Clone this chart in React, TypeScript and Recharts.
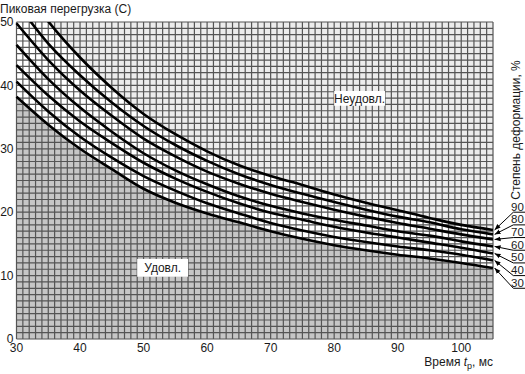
import React from 'react';
import {
  ComposedChart,
  Area,
  Line,
  XAxis,
  YAxis,
  CartesianGrid,
  ReferenceArea,
  ReferenceLine,
  ReferenceDot,
} from 'recharts';

// время t_p, мс
const times = [30, 35, 40, 45, 50, 55, 60, 65, 70, 75, 80, 85, 90, 95, 100, 105];

// пиковая перегрузка для каждой степени деформации
const deform30 = [38.2, 33.8, 30.0, 26.8, 23.7, 21.5, 19.8, 18.4, 17.0, 15.8, 14.8, 14.0, 13.3, 12.7, 12.0, 11.2];
const deform40 = [40.6, 35.9, 31.9, 28.6, 25.7, 23.4, 21.4, 19.8, 18.3, 17.1, 16.1, 15.3, 14.6, 14.0, 13.3, 12.4];
const deform50 = [43.2, 38.4, 34.3, 30.9, 27.8, 25.3, 23.2, 21.4, 19.9, 18.8, 17.7, 16.8, 16.0, 15.2, 14.4, 13.5];
const deform60 = [46.4, 41.0, 36.5, 32.7, 29.3, 26.6, 24.4, 22.5, 21.0, 19.8, 18.8, 17.9, 17.0, 16.3, 15.4, 14.6];
const deform70 = [49.8, 44.0, 39.2, 35.2, 31.6, 28.8, 26.4, 24.5, 22.9, 21.6, 20.4, 19.3, 18.3, 17.4, 16.5, 15.7];
const deform80 = [53.0, 46.6, 41.6, 37.3, 33.6, 30.6, 28.1, 26.0, 24.3, 22.9, 21.6, 20.4, 19.3, 18.4, 17.3, 16.5];
const deform90 = [57.0, 50.1, 44.4, 39.6, 35.5, 32.3, 29.6, 27.4, 25.7, 24.3, 22.8, 21.5, 20.3, 19.1, 18.0, 17.2];

const degrees = [90, 80, 70, 60, 50, 40, 30];
const xTickLabels = [30, 40, 50, 60, 70, 80, 90, 100];
const yTickLabels = [0, 10, 20, 30, 40, 50];

const X_MIN = 30;
const X_MAX = 105;
const Y_MIN = 0;
const Y_MAX = 50;

// сетка через 1 единицу
const gridX = Array.from({ length: X_MAX - X_MIN + 1 }, (_, i) => X_MIN + i);
const gridY = Array.from({ length: Y_MAX - Y_MIN + 1 }, (_, i) => Y_MIN + i);

const series: Record<number, number[]> = {
  30: deform30,
  40: deform40,
  50: deform50,
  60: deform60,
  70: deform70,
  80: deform80,
  90: deform90,
};

const data = times.map((t, i) => {
  const row: Record<string, number> = { t };
  degrees.forEach((d) => {
    row['c' + d] = series[d][i];
  });
  return row;
});

// выноски справа
const LEADER_TOP = 20;
const LEADER_STEP = 2;
const LEADER_X0 = 108.2;
const LEADER_X1 = 110.5;
const LABEL_X = 108.85;
const ARROW_X = 105.25;

const font = '"Liberation Sans", Arial, sans-serif';
const tickStyle = { fontSize: 12, fill: '#1a1a1a', fontFamily: font };

export default function App() {
  return (
    <div style={{ position: 'absolute', left: 0, top: 0, width: 525, height: 374, background: '#fff', fontFamily: font, color: '#1a1a1a' }}>
      <ComposedChart width={525} height={374} data={data} margin={{ top: 22, right: 32, bottom: 5, left: 0 }}>
        <defs>
          <marker id="leaderArrow" viewBox="0 0 10 10" refX="10" refY="5" markerWidth="6" markerHeight="6" orient="auto">
            <path d="M0,1 L10,5 L0,9 z" fill="#000" />
          </marker>
        </defs>
        <XAxis
          dataKey="t"
          type="number"
          domain={[X_MIN, X_MAX]}
          ticks={gridX}
          interval={0}
          tickFormatter={(v: number) => (xTickLabels.includes(v) ? String(v) : '')}
          axisLine={false}
          tickLine={false}
          tickSize={3}
          tickMargin={1}
          height={30}
          tick={tickStyle}
        />
        <YAxis
          type="number"
          domain={[Y_MIN, Y_MAX]}
          allowDataOverflow
          ticks={gridY}
          interval={0}
          tickFormatter={(v: number) => (yTickLabels.includes(v) ? String(v) : '')}
          axisLine={false}
          tickLine={false}
          tickSize={2}
          tickMargin={1}
          width={16.5}
          tick={tickStyle}
        />

        <Area
          type="monotone"
          dataKey={(d: Record<string, number>) => [d.c90, Y_MAX]}
          stroke="none"
          fill="#ececec"
          fillOpacity={1}
          isAnimationActive={false}
          activeDot={false}
        />
        <Area
          type="monotone"
          dataKey={(d: Record<string, number>) => [d.c30, d.c90]}
          stroke="none"
          fill="#ffffff"
          fillOpacity={1}
          isAnimationActive={false}
          activeDot={false}
        />
        <Area
          type="monotone"
          dataKey="c30"
          stroke="none"
          fill="#c6c6c6"
          fillOpacity={1}
          isAnimationActive={false}
          activeDot={false}
        />

        <CartesianGrid stroke="#555555" strokeWidth={1.2} zIndex={150} />

        {degrees.map((d) => (
          <Line
            key={d}
            type="monotone"
            dataKey={'c' + d}
            stroke="#000"
            strokeWidth={2.6}
            dot={false}
            activeDot={false}
            isAnimationActive={false}
          />
        ))}

        <ReferenceArea
          x1={80}
          x2={88}
          y1={36.8}
          y2={39.1}
          fill="#fff"
          fillOpacity={1}
          stroke="none"
          zIndex={450}
          label={{ value: 'Неудовл.', position: 'center', fontSize: 12, fill: '#1a1a1a', fontFamily: font }}
        />
        <ReferenceArea
          x1={49}
          x2={57}
          y1={9.8}
          y2={12.6}
          fill="#fff"
          fillOpacity={1}
          stroke="none"
          zIndex={450}
          label={{ value: 'Удовл.', position: 'center', fontSize: 12, fill: '#1a1a1a', fontFamily: font }}
        />

        {degrees.map((d, i) => {
          const ly = LEADER_TOP - LEADER_STEP * i;
          return (
            <ReferenceLine
              key={'u' + d}
              segment={[{ x: LEADER_X0, y: ly }, { x: LEADER_X1, y: ly }]}
              stroke="#000"
              strokeWidth={1}
              ifOverflow="visible"
            />
          );
        })}
        {degrees.map((d, i) => {
          const ly = LEADER_TOP - LEADER_STEP * i;
          const end = series[d][series[d].length - 1];
          return (
            <ReferenceLine
              key={'a' + d}
              segment={[{ x: LEADER_X0, y: ly }, { x: ARROW_X, y: end }]}
              stroke="#000"
              strokeWidth={1}
              markerEnd="url(#leaderArrow)"
              ifOverflow="visible"
            />
          );
        })}
        {degrees.map((d, i) => (
          <ReferenceDot
            key={'l' + d}
            x={LABEL_X}
            y={LEADER_TOP - LEADER_STEP * i}
            r={0}
            stroke="none"
            fill="none"
            ifOverflow="visible"
            label={{ value: String(d), position: 'top', offset: 1.5, fontSize: 11.5, fill: '#1a1a1a', fontFamily: font }}
          />
        ))}
      </ComposedChart>

      <div style={{ position: 'absolute', left: 0, top: 1, fontSize: 12, lineHeight: '16px', whiteSpace: 'nowrap' }}>
        Пиковая перегрузка (С)
      </div>
      <div style={{ position: 'absolute', right: 32, top: 355, fontSize: 12, lineHeight: '14px', whiteSpace: 'nowrap' }}>
        Время <i>t</i>
        <sub style={{ fontSize: 9, lineHeight: 0 }}>p</sub>, мс
      </div>
      <div
        style={{
          position: 'absolute',
          left: 416,
          top: 122,
          width: 200,
          height: 16,
          fontSize: 12,
          lineHeight: '16px',
          textAlign: 'center',
          whiteSpace: 'nowrap',
          transform: 'rotate(-90deg)',
          transformOrigin: 'center',
        }}
      >
        Степень деформации, %
      </div>
    </div>
  );
}
